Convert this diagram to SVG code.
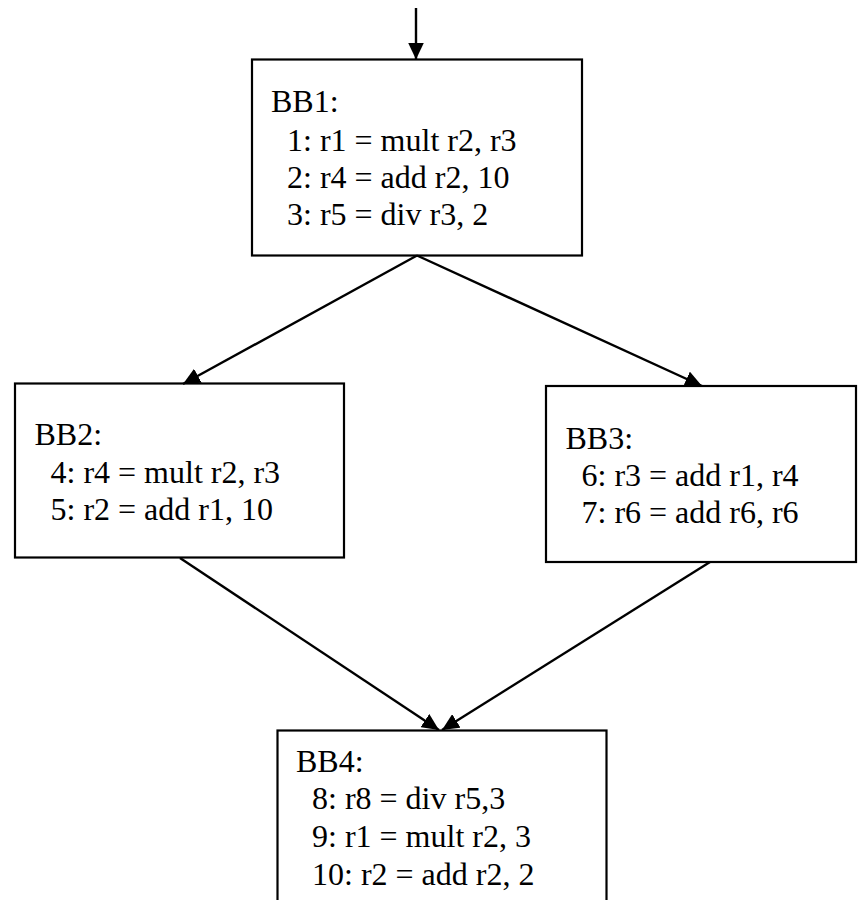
<svg xmlns="http://www.w3.org/2000/svg" width="858" height="900" viewBox="0 0 858 900">
<style>
.box{fill:#fff;stroke:#000;stroke-width:2.2}
.t{font-family:"Liberation Serif","Times New Roman",serif;font-size:32px;fill:#000}
.edge{stroke:#000;stroke-width:2.4;fill:none;marker-end:url(#ah)}
</style>
<defs>
<marker id="ah" markerUnits="userSpaceOnUse" markerWidth="17" markerHeight="16" refX="17" refY="8" orient="auto">
<path d="M0,0 L17,8 L0,16 z" fill="#000"/>
</marker>
</defs>
<rect width="858" height="900" fill="#fff"/>
<g id="BB1">
<rect class="box" x="252" y="59.5" width="330" height="196"/>
<text class="t" x="271" y="112">BB1:</text>
<text class="t" x="287" y="151">1: r1 = mult r2, r3</text>
<text class="t" x="287" y="188">2: r4 = add r2, 10</text>
<text class="t" x="287" y="225">3: r5 = div r3, 2</text>
</g>
<g id="BB2">
<rect class="box" x="15" y="383.5" width="329" height="174"/>
<text class="t" x="34.5" y="445">BB2:</text>
<text class="t" x="50.5" y="482.5">4: r4 = mult r2, r3</text>
<text class="t" x="50.5" y="520">5: r2 = add r1, 10</text>
</g>
<g id="BB3">
<rect class="box" x="546" y="386" width="310" height="176"/>
<text class="t" x="565.5" y="448.5">BB3:</text>
<text class="t" x="581.5" y="486">6: r3 = add r1, r4</text>
<text class="t" x="581.5" y="523">7: r6 = add r6, r6</text>
</g>
<g id="BB4">
<rect class="box" x="277.5" y="730.5" width="329" height="190"/>
<text class="t" x="296" y="772">BB4:</text>
<text class="t" x="312" y="809">8: r8 = div r5,3</text>
<text class="t" x="312" y="846.5">9: r1 = mult r2, 3</text>
<text class="t" x="312" y="885">10: r2 = add r2, 2</text>
</g>
<g id="connectors">
<line class="edge" x1="416" y1="8" x2="416" y2="59.5"/>
<line class="edge" x1="417" y1="255.5" x2="183" y2="384"/>
<line class="edge" x1="417" y1="255.5" x2="702" y2="386"/>
<line class="edge" x1="180" y1="558" x2="439" y2="730"/>
<line class="edge" x1="710" y1="562" x2="442" y2="730"/>
</g>
</svg>
